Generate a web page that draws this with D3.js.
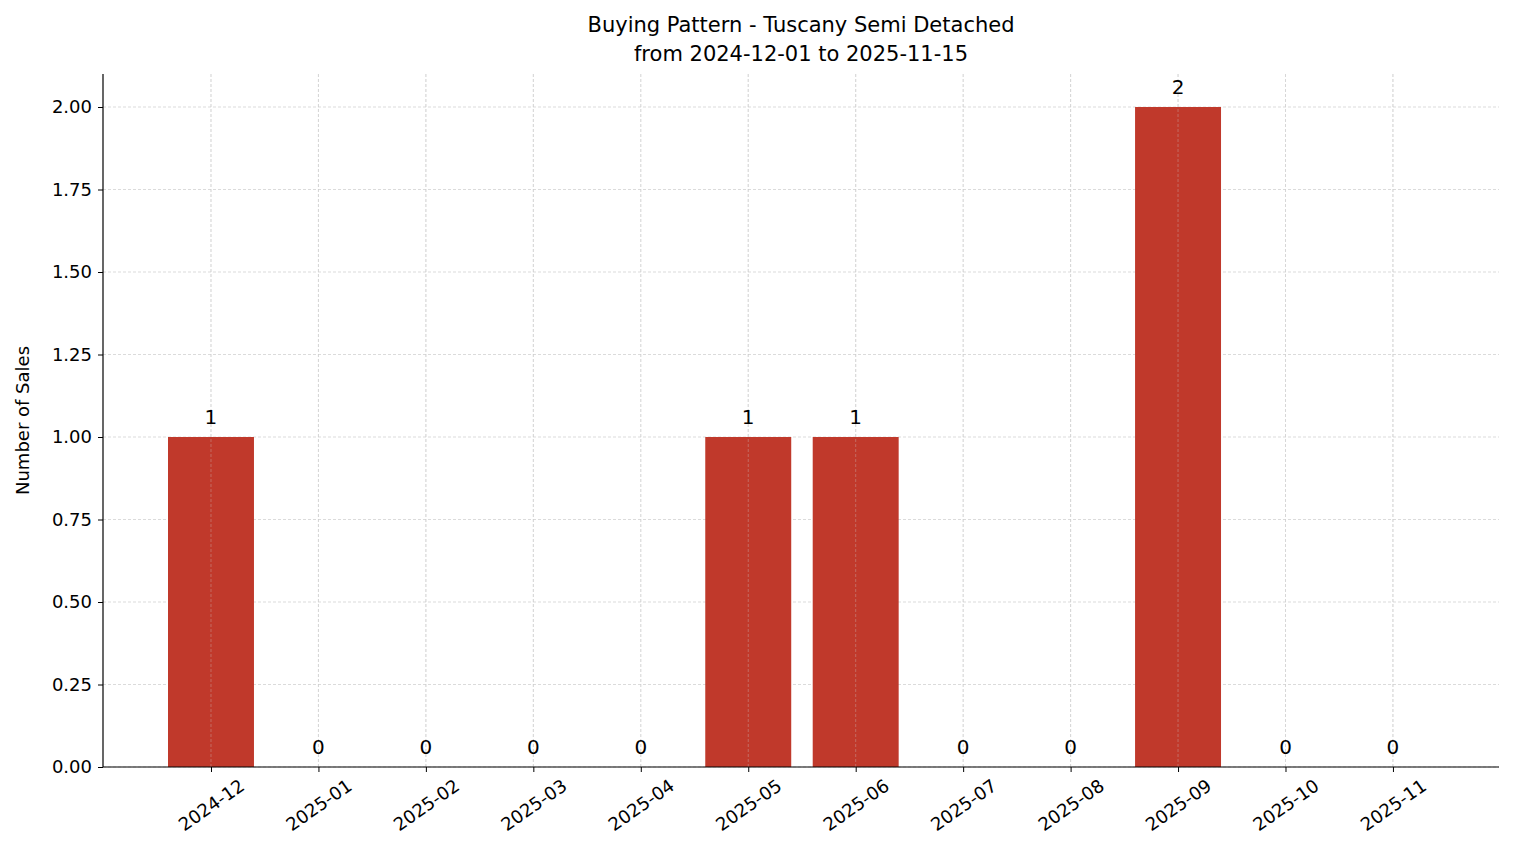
<!DOCTYPE html>
<html><head><meta charset="utf-8">
<script src="https://cdn.jsdelivr.net/npm/d3@7"></script>
<style>body{margin:0;background:#fff}text{font-family:"DejaVu Sans",sans-serif;fill:#000}</style>
</head><body><svg id="c" width="1514" height="863"></svg>
<script>
const months=["2024-12","2025-01","2025-02","2025-03","2025-04","2025-05","2025-06","2025-07","2025-08","2025-09","2025-10","2025-11"];
const sales=[1,0,0,0,0,1,1,0,0,2,0,0];
const yTicks=[0,0.25,0.5,0.75,1,1.25,1.5,1.75,2];
const svg=d3.select("#c");
const L=103,R=1499,T=74,B=767;
const x=d3.scaleLinear().domain([-1.005,11.987]).range([L,R]);
const y=d3.scaleLinear().domain([0,2.1]).range([B,T]);
const g=svg.append("g");
g.selectAll(".gy").data(yTicks).join("line").attr("x1",L).attr("x2",R).attr("y1",d=>y(d)).attr("y2",d=>y(d))
 .attr("stroke","#ccc").attr("stroke-dasharray","3,2").attr("stroke-width",0.7);
g.selectAll(".gx").data(months).join("line").attr("x1",(d,i)=>x(i)).attr("x2",(d,i)=>x(i)).attr("y1",T).attr("y2",B)
 .attr("stroke","#ccc").attr("stroke-dasharray","3,2").attr("stroke-width",0.7);
g.selectAll(".b").data(sales).join("rect").attr("x",(d,i)=>x(i-0.4)).attr("width",x(0.8)-x(0))
 .attr("y",d=>y(d)).attr("height",d=>B-y(d)).attr("fill","#c0392b");
g.selectAll(".gx2").data(months).join("line").attr("x1",(d,i)=>x(i)).attr("x2",(d,i)=>x(i)).attr("y1",T).attr("y2",B)
 .attr("stroke","#ccc").attr("stroke-opacity",0.5).attr("stroke-dasharray","3,2").attr("stroke-width",0.7);
g.selectAll(".lb").data(sales).join("text").attr("x",(d,i)=>x(i)).attr("y",d=>y(d)-13)
 .attr("text-anchor","middle").attr("font-size",20).text(d=>d);
const ya=svg.append("g").attr("transform",`translate(${L},0)`).call(d3.axisLeft(y).tickValues(yTicks).tickFormat(d3.format(".2f")).tickSize(5).tickPadding(6));
ya.select(".domain").attr("d",`M0,${T}V${B}`).attr("stroke","#000").attr("stroke-width",1.2);
ya.selectAll("text").attr("font-size",18).attr("font-family","DejaVu Sans");
const xa=svg.append("g").attr("transform",`translate(0,${B})`).call(d3.axisBottom(x).tickValues(d3.range(12)).tickFormat(i=>months[i]).tickSize(5));
xa.select(".domain").attr("d",`M${L},0H${R}`).attr("stroke","#000").attr("stroke-width",1.2);
xa.selectAll("text").attr("font-size",18).attr("font-family","DejaVu Sans").attr("text-anchor","middle")
 .attr("dy","0.35em").attr("y",0).attr("transform","translate(0,38) rotate(-35)");
svg.append("text").attr("transform",`translate(29,${(T+B)/2}) rotate(-90)`).attr("text-anchor","middle").attr("font-size",18).text("Number of Sales");
svg.append("text").attr("x",801).attr("y",32).attr("text-anchor","middle").attr("font-size",21).text("Buying Pattern - Tuscany Semi Detached");
svg.append("text").attr("x",801).attr("y",61).attr("text-anchor","middle").attr("font-size",21).text("from 2024-12-01 to 2025-11-15");
</script></body></html>
